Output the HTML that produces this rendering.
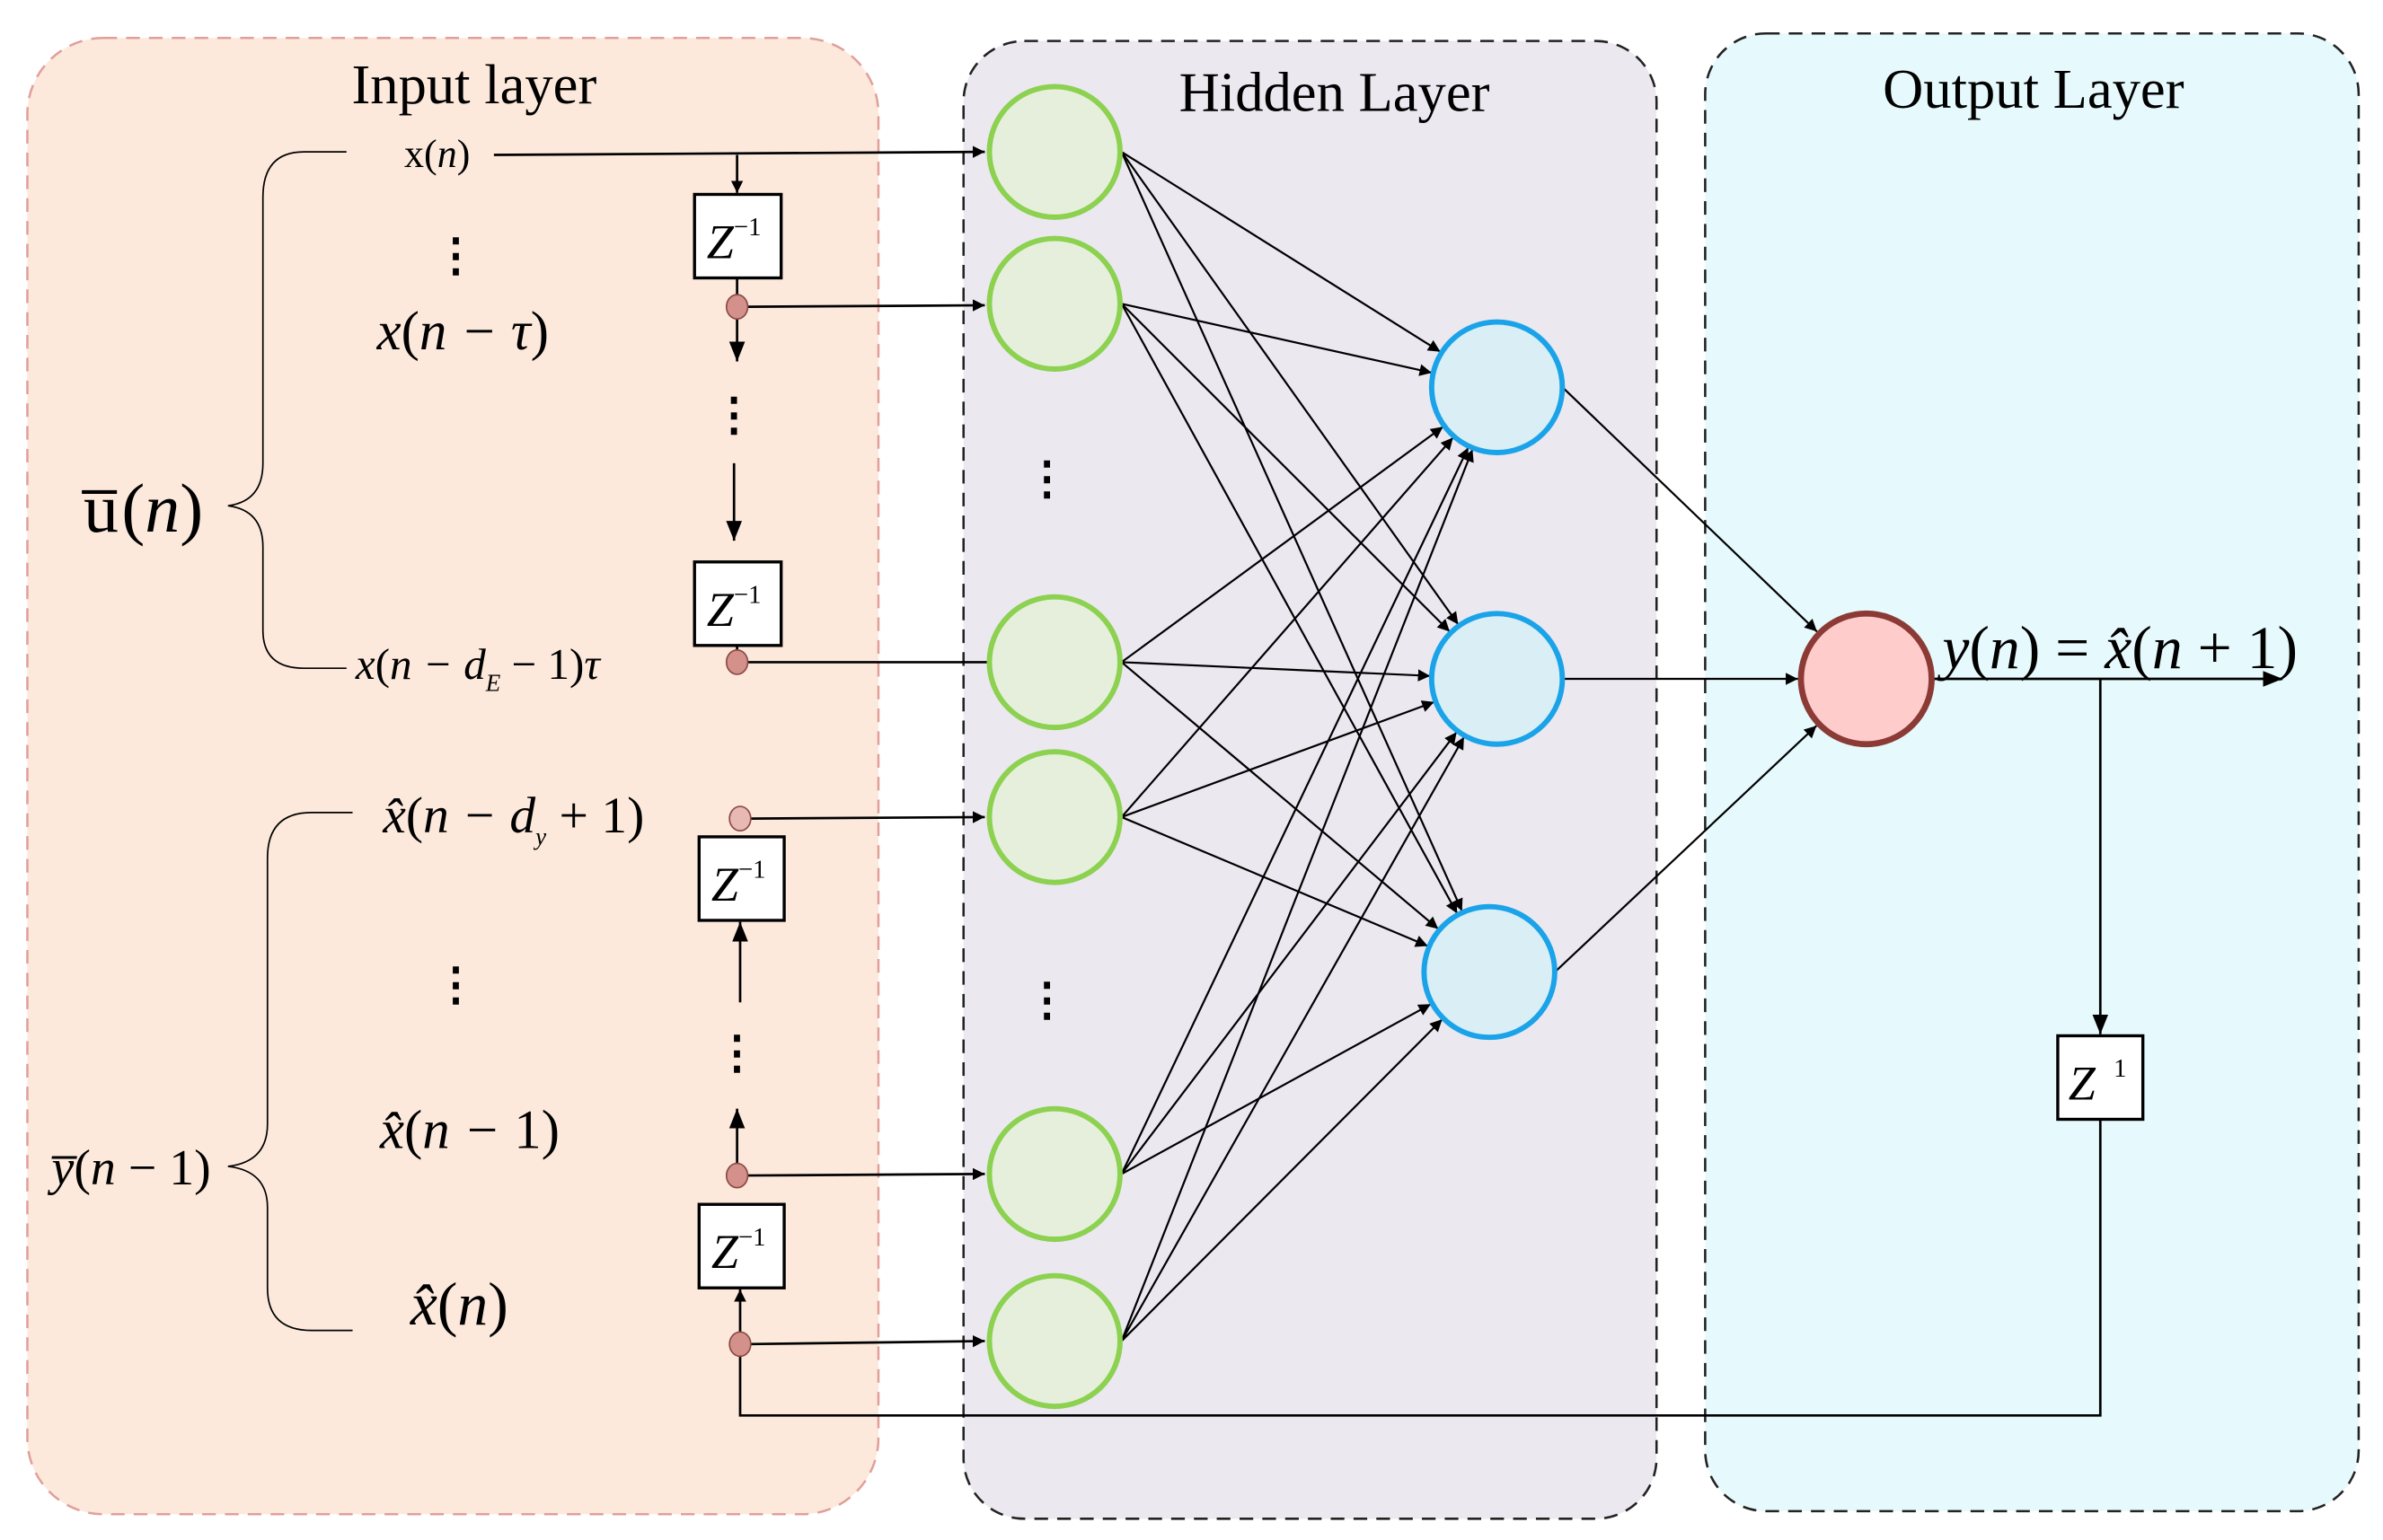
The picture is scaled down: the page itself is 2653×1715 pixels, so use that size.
<!DOCTYPE html>
<html><head><meta charset="utf-8"><style>
html,body{margin:0;padding:0;background:#fff;}
svg{display:block;}
text{font-family:"Liberation Serif",serif;fill:#000;}
.it{font-style:italic;}
</style></head><body>
<svg id="s" width="2653" height="1715" viewBox="0 0 1568 1014" preserveAspectRatio="none" xmlns="http://www.w3.org/2000/svg">
<defs>
<marker id="a" viewBox="0 0 10 10" refX="10" refY="5" markerWidth="8" markerHeight="8" orient="auto" markerUnits="userSpaceOnUse"><path d="M0,0 L10,5 L0,10 z" fill="#000"/></marker>
<marker id="b" viewBox="0 0 10 10" refX="10" refY="5" markerWidth="13" markerHeight="13" orient="auto" markerUnits="userSpaceOnUse"><path d="M0,1 L10,5 L0,9 z" fill="#000"/></marker>
</defs>
<rect x="18" y="25" width="560" height="972" rx="50" fill="#fce9dc" stroke="#e0a09a" stroke-width="1.5" stroke-dasharray="9,6"/>
<rect x="634" y="27" width="456" height="973" rx="40" fill="#ebe8f0" stroke="#222" stroke-width="1.5" stroke-dasharray="9,6"/>
<rect x="1122" y="22" width="430" height="973" rx="40" fill="#e6f9fc" stroke="#222" stroke-width="1.5" stroke-dasharray="9,6"/>

<text x="312" y="68" font-size="37" text-anchor="middle">Input layer</text>
<text x="878" y="73" font-size="37" text-anchor="middle">Hidden Layer</text>
<text x="1338" y="71" font-size="37" text-anchor="middle">Output Layer</text>

<g id="edges" stroke="#000" stroke-width="1.3" fill="none"></g>

<path d="M228,100 L200,100 Q173,100 173,130 L173,305 Q173,330 150,333 Q173,336 173,360 L173,415 Q173,440 200,440 L228,440" stroke="#000" stroke-width="1" fill="none"/>
<path d="M232,535 L205,535 Q176,535 176,565 L176,740 Q176,765 150,768 Q176,771 176,795 L176,848 Q176,876 205,876 L232,876" stroke="#000" stroke-width="1" fill="none"/>

<text x="55" y="350" font-size="46">u̅</text>
<text x="80" y="350" font-size="46">(<tspan class="it">n</tspan>)</text>
<text x="34" y="780" font-size="33"><tspan class="it">y̅</tspan>(<tspan class="it">n</tspan> − 1)</text>
<text x="266" y="110" font-size="26">x(<tspan class="it">n</tspan>)</text>
<text x="300" y="178" font-size="30" font-weight="bold" text-anchor="middle">⋮</text>
<text x="248" y="230" font-size="36" class="it">x<tspan font-style="normal">(</tspan>n − τ<tspan font-style="normal">)</tspan></text>
<text x="234" y="447" font-size="29" class="it">x<tspan font-style="normal">(</tspan>n − d<tspan font-size="16" dy="8">E</tspan><tspan dy="-8" font-style="normal"> − 1)</tspan>τ</text>
<text x="252" y="548" font-size="34" class="it">x̂<tspan font-style="normal">(</tspan>n − d<tspan font-size="16" dy="8">y</tspan><tspan dy="-8" font-style="normal"> + 1)</tspan></text>
<text x="300" y="658" font-size="30" font-weight="bold" text-anchor="middle">⋮</text>
<text x="250" y="756" font-size="36" class="it">x̂<tspan font-style="normal">(</tspan>n − <tspan font-style="normal">1)</tspan></text>
<text x="270" y="872" font-size="40" class="it">x̂<tspan font-style="normal">(</tspan>n<tspan font-style="normal">)</tspan></text>
<text x="483" y="283" font-size="30" font-weight="bold" text-anchor="middle">⋮</text>
<text x="485" y="703" font-size="30" font-weight="bold" text-anchor="middle">⋮</text>
<text x="689" y="325" font-size="30" font-weight="bold" text-anchor="middle">⋮</text>
<text x="689" y="668" font-size="30" font-weight="bold" text-anchor="middle">⋮</text>

<g stroke="#000" stroke-width="1.6" fill="none">
<line x1="325" y1="102" x2="648" y2="100" marker-end="url(#a)"/>
<line x1="485" y1="102" x2="485" y2="127" marker-end="url(#a)"/>
<line x1="485" y1="183" x2="485" y2="196"/>
<line x1="492" y1="202" x2="648" y2="201" marker-end="url(#a)"/>
<line x1="485" y1="209" x2="485" y2="238" marker-end="url(#b)"/>
<line x1="483" y1="305" x2="483" y2="356" marker-end="url(#b)"/>
<line x1="485" y1="425" x2="485" y2="430"/>
<line x1="492" y1="436" x2="650" y2="436"/>
<line x1="494" y1="539" x2="648" y2="538" marker-end="url(#a)"/>
<line x1="487" y1="660" x2="487" y2="607" marker-end="url(#b)"/>
<line x1="485" y1="767" x2="485" y2="730" marker-end="url(#b)"/>
<line x1="492" y1="774" x2="648" y2="773" marker-end="url(#a)"/>
<line x1="487" y1="878" x2="487" y2="849" marker-end="url(#a)"/>
<line x1="494" y1="885" x2="648" y2="883" marker-end="url(#a)"/>
<polyline points="487,892 487,932 1382,932 1382,737"/>
<line x1="1272" y1="447" x2="1502" y2="447" marker-end="url(#b)"/>
<line x1="1382" y1="447" x2="1382" y2="681" marker-end="url(#b)"/>
</g>

<g stroke="#000" stroke-width="2" fill="#fff">
<rect x="457" y="128" width="57" height="55"/>
<rect x="457" y="370" width="57" height="55"/>
<rect x="460" y="551" width="56" height="55"/>
<rect x="460" y="793" width="56" height="55"/>
<rect x="1354" y="682" width="56" height="55"/>
</g>
<g font-size="32" class="it">
<text x="465" y="170">Z<tspan font-size="17" dy="-15" font-style="normal">−1</tspan></text>
<text x="465" y="412">Z<tspan font-size="17" dy="-15" font-style="normal">−1</tspan></text>
<text x="468" y="593">Z<tspan font-size="17" dy="-15" font-style="normal">−1</tspan></text>
<text x="468" y="835">Z<tspan font-size="17" dy="-15" font-style="normal">−1</tspan></text>
<text x="1361" y="724">Z<tspan font-size="17" dy="-15" font-style="normal" dx="12">1</tspan></text>
</g>

<g fill="#d4918b" stroke="#8b4a45" stroke-width="1">
<ellipse cx="485" cy="202" rx="7" ry="8"/>
<ellipse cx="485" cy="436" rx="7" ry="8"/>
<ellipse cx="487" cy="539" rx="7" ry="8" fill="#e8b8b4"/>
<ellipse cx="485" cy="774" rx="7" ry="8"/>
<ellipse cx="487" cy="885" rx="7" ry="8"/>
</g>

<g id="nodes"></g>
<circle cx="1228" cy="447" r="43" fill="#ffcccc" stroke="#8b3a35" stroke-width="4"/>
<text x="1278" y="440" font-size="40" class="it">y<tspan font-style="normal">(</tspan>n<tspan font-style="normal">) = </tspan>x̂<tspan font-style="normal">(</tspan>n<tspan font-style="normal"> + 1)</tspan></text>
</svg>
<script>
var NS="http://www.w3.org/2000/svg";
var ins=[100,200,436,538,773,883], ix=694, r1=44;
var hid=[[985,255],[985,447],[980,640]], r2=44;
var out=[1228,447], r3=45;
var E=document.getElementById("edges"), N=document.getElementById("nodes");
function ln(x1,y1,x2,y2,r){var dx=x2-x1,dy=y2-y1,d=Math.sqrt(dx*dx+dy*dy);
 var l=document.createElementNS(NS,"line");l.setAttribute("x1",x1);l.setAttribute("y1",y1);
 l.setAttribute("x2",x2-dx/d*r);l.setAttribute("y2",y2-dy/d*r);l.setAttribute("marker-end","url(#a)");E.appendChild(l);}
ins.forEach(function(y){hid.forEach(function(h){ln(ix+44,y,h[0],h[1],r2);});});
hid.forEach(function(h){ln(h[0]+r2*0.98,h[1],out[0],out[1],r3);});
function c(x,y,r,f,s,w){var e=document.createElementNS(NS,"ellipse");e.setAttribute("cx",x);e.setAttribute("cy",y);e.setAttribute("rx",r);e.setAttribute("ry",r);e.setAttribute("fill",f);e.setAttribute("stroke",s);e.setAttribute("stroke-width",w);N.appendChild(e);}
ins.forEach(function(y){c(ix,y,43,"#e6efdc","#8cd150",3.5);});
hid.forEach(function(h){c(h[0],h[1],43,"#d9eef5","#1aa3e8",3.5);});
</script>
</body></html>
